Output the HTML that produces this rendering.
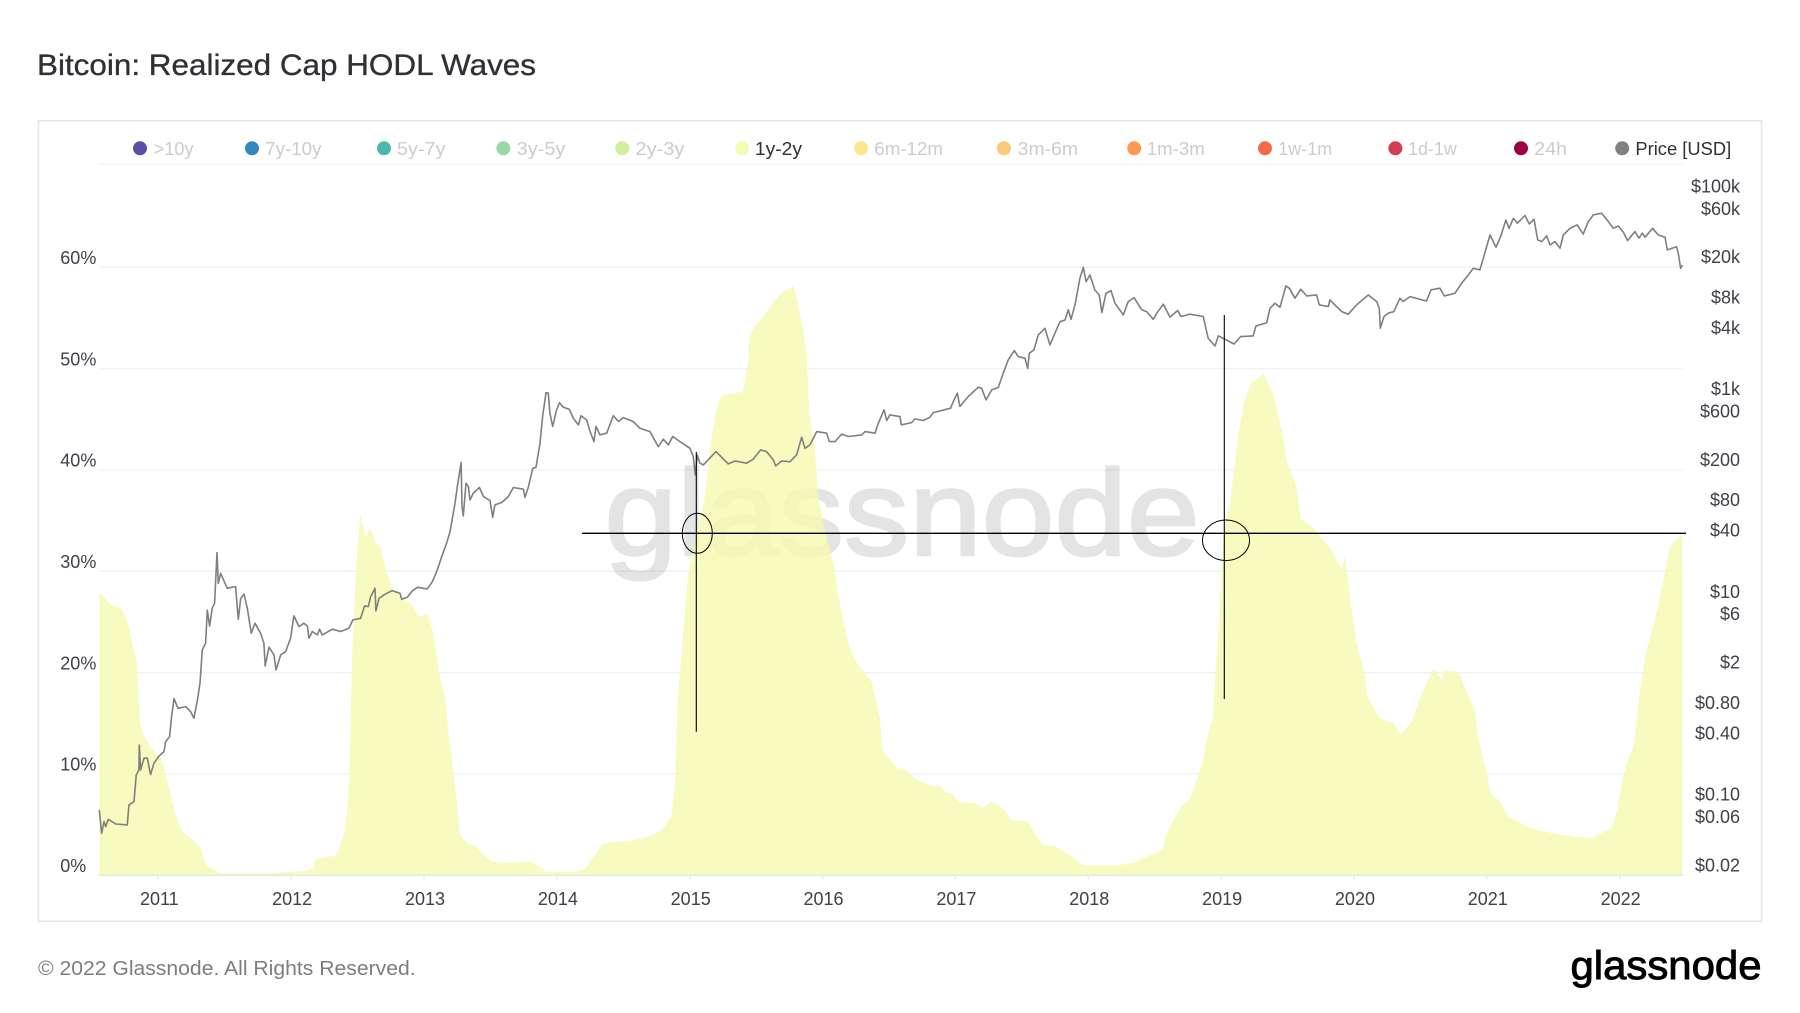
<!DOCTYPE html>
<html lang="en">
<head>
<meta charset="utf-8">
<title>Bitcoin: Realized Cap HODL Waves</title>
<style>
html,body{margin:0;padding:0;background:#fff;}
svg{display:block;font-family:"Liberation Sans",Arial,sans-serif;}
</style>
</head>
<body>
<svg id="chart" width="1800" height="1013" viewBox="0 0 1800 1013" xmlns="http://www.w3.org/2000/svg">
  <rect x="0" y="0" width="1800" height="1013" fill="#ffffff"/>
  <text x="37" y="75" font-size="30" fill="#2f3136" stroke="#2f3136" stroke-width="0.35" textLength="499" lengthAdjust="spacingAndGlyphs">Bitcoin: Realized Cap HODL Waves</text>
  <rect x="38.5" y="120.8" width="1723" height="800.5" fill="none" stroke="#e6e6e6" stroke-width="1.6"/>

  <g font-size="18" fill="#cccccc">
    <g><circle cx="140" cy="148.3" r="7" fill="#5e4fa2"/><text x="153.8" y="155" textLength="39.7" lengthAdjust="spacingAndGlyphs">&gt;10y</text></g>
    <g><circle cx="252" cy="148.3" r="7" fill="#3288bd"/><text x="265.2" y="155" textLength="56.3" lengthAdjust="spacingAndGlyphs">7y-10y</text></g>
    <g><circle cx="384" cy="148.3" r="7" fill="#48b9ac"/><text x="397" y="155" textLength="48.5" lengthAdjust="spacingAndGlyphs">5y-7y</text></g>
    <g><circle cx="503.4" cy="148.3" r="7" fill="#98d8a4"/><text x="516.6" y="155" textLength="48.8" lengthAdjust="spacingAndGlyphs">3y-5y</text></g>
    <g><circle cx="622.3" cy="148.3" r="7" fill="#d0ee9c"/><text x="635.5" y="155" textLength="48.8" lengthAdjust="spacingAndGlyphs">2y-3y</text></g>
    <g><circle cx="742.2" cy="148.3" r="7" fill="#f6fbb2"/><text x="754.9" y="155" textLength="47.1" lengthAdjust="spacingAndGlyphs" fill="#2f3136">1y-2y</text></g>
    <g><circle cx="861" cy="148.3" r="7" fill="#fde690"/><text x="874.3" y="155" textLength="68.7" lengthAdjust="spacingAndGlyphs">6m-12m</text></g>
    <g><circle cx="1003.9" cy="148.3" r="7" fill="#fdc877"/><text x="1017.7" y="155" textLength="60.3" lengthAdjust="spacingAndGlyphs">3m-6m</text></g>
    <g><circle cx="1134.2" cy="148.3" r="7" fill="#fc9a55"/><text x="1146.8" y="155" textLength="58" lengthAdjust="spacingAndGlyphs">1m-3m</text></g>
    <g><circle cx="1265" cy="148.3" r="7" fill="#f46a45"/><text x="1278.3" y="155" textLength="54" lengthAdjust="spacingAndGlyphs">1w-1m</text></g>
    <g><circle cx="1395.4" cy="148.3" r="7" fill="#d33c51"/><text x="1408" y="155" textLength="48.8" lengthAdjust="spacingAndGlyphs">1d-1w</text></g>
    <g><circle cx="1521" cy="148.3" r="7" fill="#9e0142"/><text x="1534.3" y="155" textLength="32.7" lengthAdjust="spacingAndGlyphs">24h</text></g>
    <g><circle cx="1622.2" cy="148.3" r="7" fill="#808080"/><text x="1635.4" y="155" textLength="95.8" lengthAdjust="spacingAndGlyphs" fill="#2f3136">Price [USD]</text></g>
  </g>

  <line x1="99" y1="164.3" x2="1683" y2="164.3" stroke="#f2f2f2" stroke-width="1.4"/>
  <g id="grid"></g>
  <g opacity="0.1">
    <text x="604.5" y="555" font-size="122" fill="#000" stroke="#000" stroke-width="2.5" textLength="595" lengthAdjust="spacingAndGlyphs">glassnode</text>
  </g>
  <g id="marks"></g>
  <g id="priceLayer"></g>
  <g id="axes"></g>

  <g fill="none" stroke="#000">
    <line x1="582" y1="533.3" x2="1686" y2="533.3" stroke-width="1.3"/>
    <line x1="696.3" y1="452" x2="696.3" y2="731.7" stroke-width="1.1"/>
    <line x1="1224.3" y1="315" x2="1224.3" y2="699" stroke-width="1.1"/>
    <ellipse cx="697.3" cy="533.3" rx="15" ry="20" stroke-width="1"/>
    <ellipse cx="1226" cy="540.3" rx="23.5" ry="20.3" stroke-width="1"/>
  </g>

  <text x="38" y="975" font-size="20" fill="#7d7d7d" textLength="377.6" lengthAdjust="spacingAndGlyphs">© 2022 Glassnode. All Rights Reserved.</text>
  <text x="1570.5" y="979" font-size="40" fill="#000" stroke="#000" stroke-width="0.9" textLength="191" lengthAdjust="spacingAndGlyphs">glassnode</text>
</svg>

<script>
const yearTicks = [2011,2012,2013,2014,2015,2016,2017,2018,2019,2020,2021,2022];
const pctTicks = [0,10,20,30,40,50,60];
const priceTicks = [100000,60000,20000,8000,4000,1000,600,200,80,40,10,6,2,0.8,0.4,0.1,0.06,0.02];
const priceTickLabels = ["$100k","$60k","$20k","$8k","$4k","$1k","$600","$200","$80","$40","$10","$6","$2","$0.80","$0.40","$0.10","$0.06","$0.02"];

const waveDates = [2010.556,2010.59,2010.63,2010.73,2010.77,2010.81,2010.84,2010.86,2010.89,2010.94,2011.02,2011.06,2011.09,2011.13,2011.18,2011.26,2011.32,2011.36,2011.43,2011.47,2011.84,2012.10,2012.17,2012.18,2012.25,2012.33,2012.36,2012.40,2012.42,2012.44,2012.45,2012.46,2012.49,2012.52,2012.53,2012.56,2012.59,2012.62,2012.64,2012.67,2012.70,2012.73,2012.77,2012.83,2012.90,2012.96,2013.03,2013.07,2013.11,2013.16,2013.18,2013.21,2013.24,2013.27,2013.33,2013.39,2013.46,2013.51,2013.61,2013.80,2013.89,2013.92,2014.13,2014.21,2014.28,2014.34,2014.41,2014.56,2014.69,2014.79,2014.86,2014.89,2014.91,2014.95,2014.99,2015.11,2015.16,2015.20,2015.24,2015.40,2015.44,2015.45,2015.50,2015.59,2015.63,2015.70,2015.78,2015.81,2015.85,2015.88,2015.90,2015.94,2015.97,2016.04,2016.09,2016.11,2016.16,2016.20,2016.26,2016.37,2016.43,2016.45,2016.57,2016.60,2016.71,2016.84,2016.88,2016.93,2016.97,2017.03,2017.14,2017.21,2017.27,2017.36,2017.42,2017.55,2017.60,2017.66,2017.75,2017.88,2017.96,2018.22,2018.35,2018.44,2018.56,2018.59,2018.70,2018.76,2018.81,2018.86,2018.89,2018.94,2018.96,2018.98,2019.00,2019.02,2019.07,2019.13,2019.17,2019.22,2019.26,2019.32,2019.40,2019.47,2019.50,2019.56,2019.58,2019.60,2019.67,2019.82,2019.91,2019.93,2019.97,2020.02,2020.08,2020.10,2020.16,2020.19,2020.30,2020.35,2020.44,2020.49,2020.56,2020.60,2020.66,2020.68,2020.79,2020.84,2020.91,2020.94,2020.99,2021.03,2021.10,2021.16,2021.33,2021.46,2021.61,2021.68,2021.81,2021.85,2021.94,2021.98,2022.03,2022.11,2022.15,2022.19,2022.26,2022.33,2022.37,2022.41,2022.47];
const wavePercent = [27.8,27.5,26.8,26.25,24.9,22.6,20.9,15.3,13.85,12.7,11.55,9.75,8.1,5.95,4.3,3.5,2.65,1.0,0.45,0.2,0.2,0.43,0.7,1.5,1.8,1.9,2.65,4.15,6.1,9.75,16.65,22.25,30.45,35.65,35.05,33.4,34.25,33.4,32.75,32.45,30.8,29.5,28.15,27.35,26.85,25.5,25.8,23.9,20.25,17.3,14.65,11.7,8.1,4.0,3.15,2.85,1.85,1.35,1.2,1.35,0.7,0.35,0.35,0.6,1.85,3.0,3.3,3.4,3.8,4.45,5.8,9.1,17.3,23.9,29.8,37.0,42.9,45.9,47.4,47.7,50.8,53.3,54.3,55.75,56.6,57.55,58.15,56.75,54.1,51.5,45.55,42.3,37.0,32.75,30.45,28.15,24.85,22.55,20.9,19.1,15.65,12.35,10.4,10.7,9.4,8.75,8.9,8.15,8.1,7.2,7.1,6.7,7.25,6.6,5.45,5.3,4.0,3.0,2.85,1.85,1.0,1.0,1.25,1.85,2.6,4.15,6.8,7.45,9.1,11.05,13.35,15.65,20.6,23.9,28.8,33.75,37.0,43.6,46.55,48.5,48.85,49.5,47.2,42.95,40.65,38.65,37.0,35.1,34.6,32.3,30.15,31.6,27.5,22.9,19.95,17.65,16.3,15.5,15.0,13.85,15.3,17.3,19.3,20.4,19.3,20.25,20.1,18.3,16.3,13.35,10.7,8.1,7.25,5.8,4.65,4.25,3.9,3.75,3.7,4.1,4.65,6.45,10.05,13.05,17.95,21.6,24.85,29.15,32.1,32.95,33.6];

const priceDates = [
2010.556,2010.573,2010.591,2010.604,2010.624,2010.679,2010.767,2010.779,2010.817,2010.834,
2010.854,2010.857,2010.867,2010.892,2010.917,2010.942,2010.967,2011.005,2011.043,2011.055,
2011.085,2011.100,2011.118,2011.148,2011.206,2011.243,2011.268,2011.294,2011.314,2011.331,
2011.356,2011.369,2011.386,2011.406,2011.424,2011.432,2011.442,2011.452,2011.469,2011.519,
2011.582,2011.602,2011.620,2011.645,2011.670,2011.700,2011.728,2011.770,2011.795,2011.805,
2011.833,2011.871,2011.886,2011.921,2011.958,2011.996,2012.021,2012.059,2012.096,2012.122,
2012.134,2012.159,2012.197,2012.214,2012.234,2012.310,2012.372,2012.435,2012.465,2012.523,
2012.553,2012.581,2012.598,2012.631,2012.638,2012.661,2012.699,2012.761,2012.819,2012.832,
2012.874,2012.912,2012.950,2013.025,2013.063,2013.100,2013.138,
2013.170,2013.196,2013.233,2013.251,2013.279,2013.286,2013.296,2013.316,2013.334,2013.346,
2013.371,2013.417,2013.447,2013.497,2013.517,2013.534,2013.584,2013.635,2013.672,2013.748,
2013.760,2013.785,2013.818,2013.843,2013.873,2013.893,2013.918,2013.936,2013.948,2013.969,
2013.994,2014.019,2014.049,2014.094,2014.124,2014.162,2014.182,2014.225,2014.250,2014.280,
2014.295,2014.325,2014.375,2014.425,2014.463,2014.500,2014.575,2014.626,2014.701,2014.764,
2014.801,2014.839,2014.872,2014.927,2015.002,2015.027,2015.042,2015.057,2015.077,2015.102,
2015.140,2015.198,2015.240,2015.290,2015.341,2015.428,2015.478,2015.534,2015.579,2015.629,
2015.647,2015.692,2015.755,2015.805,2015.843,2015.868,2015.905,2015.956,2016.031,2016.051,
2016.094,2016.144,2016.194,2016.295,2016.320,2016.395,2016.420,2016.463,2016.483,2016.507,
2016.583,2016.593,2016.670,2016.695,2016.758,2016.808,2016.833,2016.964,2016.984,2017.014,
2017.034,2017.097,2017.172,2017.197,2017.230,2017.273,2017.323,2017.360,2017.398,2017.443,
2017.473,2017.523,2017.544,2017.556,2017.591,2017.624,2017.674,2017.712,2017.749,2017.787,
2017.825,2017.850,2017.870,2017.900,2017.937,2017.963,2017.983,2018.013,2018.050,2018.083,
2018.103,2018.133,2018.171,2018.201,2018.264,2018.301,2018.344,2018.402,2018.439,2018.490,
2018.515,2018.565,2018.615,2018.673,2018.698,2018.765,2018.866,2018.891,2018.903,2018.954,
2018.979,2019.041,2019.097,2019.147,2019.242,2019.262,2019.343,2019.368,2019.405,2019.443,
2019.488,2019.513,2019.556,2019.599,2019.644,2019.719,2019.739,2019.807,2019.819,2019.907,
2019.957,2020.020,2020.050,2020.108,2020.171,2020.191,2020.198,2020.226,2020.258,2020.301,
2020.346,2020.371,2020.422,2020.547,2020.580,2020.647,2020.680,2020.760,2020.810,2020.861,
2020.898,2020.948,2020.974,2021.024,2021.069,2021.104,2021.124,2021.144,2021.167,2021.200,
2021.230,2021.287,2021.320,2021.355,2021.383,2021.413,2021.451,2021.476,2021.513,2021.551,
2021.576,2021.626,2021.681,2021.726,2021.764,2021.802,2021.864,2021.915,2021.952,2021.990,
2022.028,2022.060,2022.115,2022.145,2022.171,2022.191,2022.248,2022.291,2022.341,2022.359,
2022.429,2022.444,2022.459,2022.472];
const priceUsd = [
0.0883,0.0519,0.0678,0.0604,0.0714,0.0642,0.0628,0.0989,0.1067,0.1955,
0.219,0.386,0.219,0.286,0.286,0.197,0.255,0.301,0.332,0.417,
0.467,0.736,1.107,0.889,0.923,0.824,0.708,1.07,1.57,3.35,
3.89,8.30,5.77,8.63,9.66,16.4,30.6,15.2,19.1,13.6,
14.1,6.72,10.8,11.9,8.63,4.89,6.14,4.89,3.89,2.33,
3.56,2.99,2.12,2.99,3.22,4.37,7.25,5.69,6.14,5.77,
4.37,5.09,4.71,5.36,4.71,5.36,5.09,5.48,6.62,6.87,
9.1,8.96,11.2,13.6,8.13,10.8,11.7,12.9,12.1,10.6,
11.1,12.8,13.9,13.4,15.8,20.6,29.0,
37.8,49.1,93.5,137,236,86.9,70.3,148,137,101,
118,134,109,99.5,68.2,90.4,95.3,109,134,129,
107,135,207,212,366,671,1158,1143,724,536,
753,923,830,794,647,556,683,622,477,380,
536,443,460,687,600,656,600,515,477,339,
402,353,427,380,327,270,178,280,233,224,
252,303,267,229,245,233,255,315,303,251,
219,245,241,281,420,327,353,477,460,380,
380,451,427,443,477,460,577,783,614,697,
671,556,586,637,614,661,736,813,946,1143,
844,1060,1310,1280,982,1230,1300,1800,2440,3010,
2630,2530,2010,2825,3055,4300,4990,3420,4460,5800,
6030,7590,6120,8480,15520,19950,14400,16750,11900,10640,
7130,11040,11750,8810,6760,9140,10020,7590,7300,6120,
7030,8630,6430,7470,6520,6870,6520,4640,3980,3340,
4200,3830,3490,4130,4200,5260,5670,7870,8810,8060,
13070,12400,9880,12120,10420,10660,8500,8190,9510,7310,
6870,8500,9170,10640,9170,7870,5000,6520,7030,7300,
9880,9170,10260,9290,11940,12400,10400,11060,13870,16750,
19500,18800,24500,41600,31500,40100,48400,58500,48400,60800,
54300,64700,53500,59500,37200,35800,40700,33200,35800,30800,
41600,48400,52300,42400,56400,65600,68200,56400,48400,51000,
44200,36600,45000,38700,43400,39500,48400,41600,39500,29600,
31900,26400,19500,21000];

const SVGNS = "http://www.w3.org/2000/svg";
function xOf(year){ return 158.3 + (year - 2011) * 132.85; }
function yPct(p){ return 875.3 - p * 10.135; }
function yPrice(v){ return 875.3 - (Math.log10(v) - Math.log10(0.02)) * 101.35; }
function make(tag, attrs, parent){
  const el = document.createElementNS(SVGNS, tag);
  for (const k in attrs) el.setAttribute(k, attrs[k]);
  parent.appendChild(el);
  return el;
}

const grid = document.getElementById("grid");
const marks = document.getElementById("marks");
const priceLayer = document.getElementById("priceLayer");
const axes = document.getElementById("axes");

pctTicks.forEach(function(p){
  if (p === 0) return;
  const g = make("line", {x1:99, x2:1683, y1:yPct(p), y2:yPct(p), stroke:"#f2f2f2", "stroke-width":1.4}, grid);
  
  
});

let areaD = "M" + xOf(waveDates[0]).toFixed(1) + " " + yPct(0).toFixed(1);
waveDates.forEach(function(d, i){
  areaD += "L" + xOf(d).toFixed(1) + " " + yPct(wavePercent[i]).toFixed(1);
});
areaD += "L" + xOf(waveDates[waveDates.length - 1]).toFixed(1) + " " + yPct(0).toFixed(1) + "Z";
const area = make("path", {d:areaD, fill:"#f5fab0", "fill-opacity":0.8}, marks);



let lineD = "";
priceDates.forEach(function(d, i){
  lineD += (i ? "L" : "M") + xOf(d).toFixed(1) + " " + yPrice(priceUsd[i]).toFixed(1);
});
const priceLine = make("path", {d:lineD, fill:"none", stroke:"#7f7f7f", "stroke-width":1.6, "stroke-linejoin":"round"}, priceLayer);



const axisLine = make("line", {x1:99, x2:1683, y1:yPct(0), y2:yPct(0), stroke:"#e6e6e6", "stroke-width":1.4}, axes);



yearTicks.forEach(function(y){
  const t = make("line", {x1:xOf(y), x2:xOf(y), y1:yPct(0), y2:yPct(0) + 4, stroke:"#e6e6e6", "stroke-width":1.2}, axes);
  
  
  const lab = make("text", {x:xOf(y) + 1, y:905, "text-anchor":"middle", "font-size":18, fill:"#3d4149"}, axes);
  lab.textContent = String(y);
  
  
});

pctTicks.forEach(function(p){
  const lab = make("text", {x:60.3, y:yPct(p) - 3.3, "font-size":18, fill:"#3d4149"}, axes);
  lab.textContent = p + "%";
  
  
});

priceTicks.forEach(function(v, i){
  const lab = make("text", {x:1740, y:yPrice(v) - 4, "text-anchor":"end", "font-size":18, fill:"#3d4149"}, axes);
  lab.textContent = priceTickLabels[i];
  
  
});
</script>
</body>
</html>
